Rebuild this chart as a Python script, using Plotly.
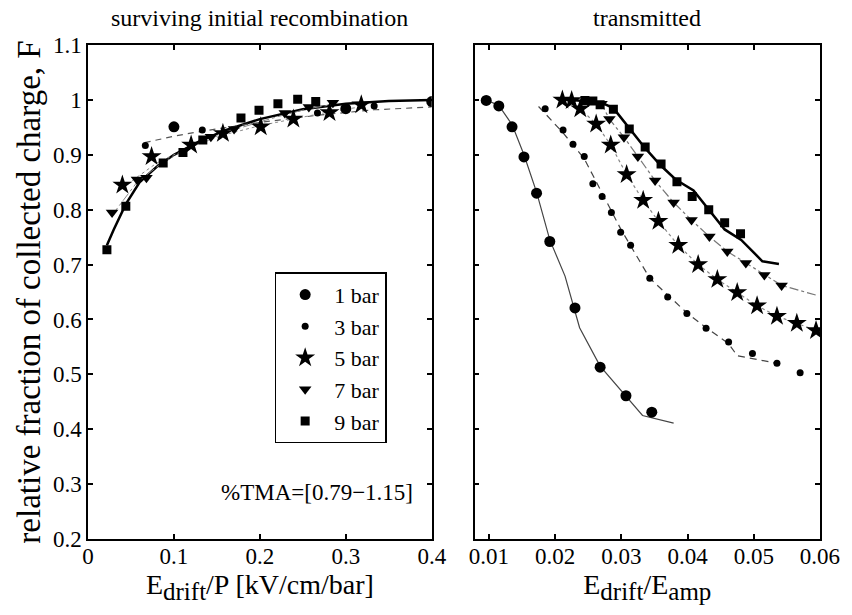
import plotly.graph_objects as go

# ---------------- data: left panel (surviving initial recombination) ----------------
L1_x = [0.1, 0.3, 0.4]
L1_y = [0.951, 0.984, 0.997]
L3_x = [0.0667, 0.133, 0.267, 0.333]
L3_y = [0.917, 0.945, 0.976, 0.989]
L5_x = [0.040, 0.074, 0.120, 0.157, 0.201, 0.239, 0.281, 0.318]
L5_y = [0.845, 0.897, 0.918, 0.939, 0.951, 0.965, 0.977, 0.991]
L7_x = [0.028, 0.057, 0.068, 0.143, 0.170, 0.229, 0.257, 0.285]
L7_y = [0.795, 0.855, 0.858, 0.933, 0.947, 0.976, 0.987, 0.995]
L9_x = [0.022, 0.044, 0.0875, 0.1105, 0.1336, 0.178, 0.199, 0.221, 0.244, 0.265]
L9_y = [0.727, 0.806, 0.885, 0.904, 0.927, 0.967, 0.981, 0.993, 1.001, 0.997]

# model curves, left
L9f_x = [0.022, 0.030, 0.044, 0.060, 0.080, 0.100, 0.130, 0.160, 0.200, 0.250, 0.300, 0.350, 0.400]
L9f_y = [0.735, 0.764, 0.810, 0.850, 0.878, 0.900, 0.925, 0.945, 0.965, 0.983, 0.993, 0.998, 1.000]
L3f_x = [0.066, 0.100, 0.133, 0.200, 0.267, 0.333, 0.400]
L3f_y = [0.922, 0.934, 0.943, 0.959, 0.972, 0.982, 0.987]
L5f_x = [0.040, 0.080, 0.120, 0.160, 0.200, 0.240, 0.280, 0.320]
L5f_y = [0.840, 0.885, 0.915, 0.937, 0.953, 0.966, 0.978, 0.988]
L7f_x = [0.028, 0.057, 0.086, 0.114, 0.143, 0.171, 0.200, 0.229, 0.257, 0.286]
L7f_y = [0.790, 0.850, 0.885, 0.910, 0.930, 0.946, 0.960, 0.973, 0.984, 0.992]

# ---------------- data: right panel (transmitted) ----------------
R1_x = [0.0096, 0.0115, 0.0135, 0.0153, 0.0172, 0.0192, 0.0230, 0.0268, 0.0307, 0.0346]
R1_y = [0.999, 0.989, 0.951, 0.896, 0.830, 0.742, 0.621, 0.513, 0.461, 0.431]
R3_x = [0.0185, 0.0212, 0.0227, 0.0244, 0.0257, 0.0271, 0.0285, 0.0299, 0.0314, 0.0343,
        0.0370, 0.0399, 0.0428, 0.0462, 0.0498, 0.0535, 0.0570]
R3_y = [0.984, 0.945, 0.919, 0.897, 0.847, 0.824, 0.795, 0.759, 0.735, 0.675,
        0.641, 0.611, 0.584, 0.559, 0.538, 0.520, 0.503]
R5_x = [0.0211, 0.0225, 0.0238, 0.0262, 0.0284, 0.0308, 0.0333, 0.0356, 0.0386, 0.0416,
        0.0445, 0.0475, 0.0505, 0.0535, 0.0565, 0.0594]
R5_y = [1.000, 0.999, 0.984, 0.956, 0.918, 0.864, 0.817, 0.779, 0.735, 0.700,
        0.673, 0.649, 0.625, 0.606, 0.593, 0.580]
R7_x = [0.0250, 0.0270, 0.0282, 0.0304, 0.0325, 0.0351, 0.0379, 0.0406, 0.0433, 0.0460,
        0.0488, 0.0516, 0.0542]
R7_y = [0.997, 0.993, 0.965, 0.932, 0.897, 0.853, 0.813, 0.781, 0.751, 0.724,
        0.703, 0.681, 0.662]
R9_x = [0.0245, 0.0257, 0.0268, 0.0288, 0.0312, 0.0336, 0.0360, 0.0384, 0.0407, 0.0432,
        0.0456, 0.0480]
R9_y = [0.999, 0.998, 0.991, 0.983, 0.947, 0.914, 0.883, 0.851, 0.824, 0.800,
        0.776, 0.756]

# model curves, right
R1f_x = [0.0096, 0.0115, 0.0135, 0.0153, 0.0172, 0.0192, 0.0215, 0.0237, 0.0268, 0.0300, 0.0332, 0.0379]
R1f_y = [1.000, 0.990, 0.955, 0.900, 0.832, 0.745, 0.679, 0.585, 0.515, 0.470, 0.425, 0.411]
R3f_x = [0.0175, 0.0212, 0.0244, 0.0271, 0.0299, 0.0343, 0.0399, 0.0428, 0.0462, 0.0475, 0.0535]
R3f_y = [0.988, 0.940, 0.893, 0.830, 0.765, 0.675, 0.612, 0.585, 0.556, 0.534, 0.520]
R5f_x = [0.0211, 0.0238, 0.0262, 0.0284, 0.0308, 0.0333, 0.0356, 0.0386, 0.0416, 0.0445,
         0.0475, 0.0505, 0.0535, 0.0565, 0.0594]
R5f_y = [1.000, 0.984, 0.956, 0.918, 0.864, 0.817, 0.779, 0.735, 0.700, 0.673,
         0.649, 0.625, 0.606, 0.593, 0.580]
R7f_x = [0.0240, 0.0270, 0.0282, 0.0304, 0.0325, 0.0351, 0.0379, 0.0406, 0.0433, 0.0460,
         0.0488, 0.0516, 0.0542, 0.0595]
R7f_y = [1.000, 0.993, 0.965, 0.932, 0.897, 0.853, 0.813, 0.781, 0.751, 0.724,
         0.703, 0.681, 0.662, 0.644]
R9f_x = [0.0225, 0.0270, 0.0288, 0.0312, 0.0336, 0.0360, 0.0382, 0.0409, 0.0432, 0.0456,
         0.0481, 0.0513, 0.0538]
R9f_y = [1.000, 0.995, 0.985, 0.948, 0.912, 0.880, 0.855, 0.835, 0.800, 0.764,
         0.745, 0.706, 0.701]

series_names = ["1 bar", "3 bar", "5 bar", "7 bar", "9 bar"]

# ---------------- styles ----------------
FONT = "Liberation Serif, Times New Roman, serif"
marker_styles = {
    "1 bar": dict(symbol="circle", size=11),
    "3 bar": dict(symbol="circle", size=7),
    "5 bar": dict(symbol="star", size=15),
    "7 bar": dict(symbol="triangle-down", size=11),
    "9 bar": dict(symbol="square", size=9),
}

fig = go.Figure()

def add_line(x, y, xa, ya, color, width, dash):
    fig.add_trace(go.Scatter(x=x, y=y, xaxis=xa, yaxis=ya, mode="lines",
                             line=dict(color=color, width=width, dash=dash),
                             showlegend=False, hoverinfo="skip"))

# lines first (under markers)
add_line(L9f_x, L9f_y, "x", "y", "black", 2.5, "solid")
add_line(L3f_x, L3f_y, "x", "y", "#555555", 1.2, "6px,5px")
add_line(L5f_x, L5f_y, "x", "y", "#888888", 1.0, "dot")
add_line(L7f_x, L7f_y, "x", "y", "#888888", 1.0, "dashdot")

add_line(R1f_x, R1f_y, "x2", "y2", "#444444", 1.2, "solid")
add_line(R3f_x, R3f_y, "x2", "y2", "#444444", 1.2, "7px,5px")
add_line(R5f_x, R5f_y, "x2", "y2", "#888888", 1.2, "dot")
add_line(R7f_x, R7f_y, "x2", "y2", "#777777", 1.2, "dashdot")
add_line(R9f_x, R9f_y, "x2", "y2", "black", 2.5, "solid")

left_data = {"1 bar": (L1_x, L1_y), "3 bar": (L3_x, L3_y), "5 bar": (L5_x, L5_y),
             "7 bar": (L7_x, L7_y), "9 bar": (L9_x, L9_y)}
right_data = {"1 bar": (R1_x, R1_y), "3 bar": (R3_x, R3_y), "5 bar": (R5_x, R5_y),
              "7 bar": (R7_x, R7_y), "9 bar": (R9_x, R9_y)}

for name in series_names:
    ms = marker_styles[name]
    x, y = left_data[name]
    fig.add_trace(go.Scatter(x=x, y=y, xaxis="x", yaxis="y", mode="markers", name=name,
                             marker=dict(symbol=ms["symbol"], size=ms["size"], color="black"),
                             legendgroup=name, showlegend=True))
for name in series_names:
    ms = marker_styles[name]
    x, y = right_data[name]
    fig.add_trace(go.Scatter(x=x, y=y, xaxis="x2", yaxis="y2", mode="markers", name=name,
                             marker=dict(symbol=ms["symbol"], size=ms["size"], color="black"),
                             legendgroup=name, showlegend=False))

axis_common = dict(showline=True, linecolor="black", linewidth=1.5, mirror="ticks",
                   ticks="inside", ticklen=5, tickwidth=1.5, tickcolor="black",
                   showgrid=False, zeroline=False,
                   tickfont=dict(family=FONT, size=23, color="black"))

SUB = '<sub><span style="font-size:25px">{}</span></sub>'

fig.update_layout(
    width=852, height=615, autosize=False,
    margin=dict(l=87.5, r=26, t=45, b=75.5),
    paper_bgcolor="white", plot_bgcolor="white",
    font=dict(family=FONT, color="black"),
    xaxis=dict(domain=[0, 0.4696], range=[0, 0.4], tickvals=[0, 0.1, 0.2, 0.3, 0.4],
               ticktext=["0", "0.1", "0.2", "0.3", "0.4"], ticklabelstandoff=-4,
               title=dict(text="E" + SUB.format("drift") + "/P [kV/cm/bar]", standoff=4,
                          font=dict(family=FONT, size=28, color="black")),
               anchor="y", **axis_common),
    yaxis=dict(domain=[0, 1], range=[0.2, 1.1],
               tickvals=[0.2, 0.3, 0.4, 0.5, 0.6, 0.7, 0.8, 0.9, 1.0, 1.1],
               ticktext=["0.2", "0.3", "0.4", "0.5", "0.6", "0.7", "0.8", "0.9", "1", "1.1"],
               title=dict(text="relative fraction of collected charge, F", standoff=2,
                          font=dict(family=FONT, size=33, color="black")),
               anchor="x", **axis_common),
    xaxis2=dict(domain=[0.5281, 1], range=[0.00784, 0.06],
                tickvals=[0.01, 0.02, 0.03, 0.04, 0.05, 0.06],
                ticktext=["0.01", "0.02", "0.03", "0.04", "0.05", "0.06"], ticklabelstandoff=-4,
                title=dict(text="E" + SUB.format("drift") + "/E" + SUB.format("amp"), standoff=4,
                           font=dict(family=FONT, size=28, color="black")),
                anchor="y2", **axis_common),
    yaxis2=dict(domain=[0, 1], range=[0.2, 1.1], matches="y", showticklabels=False,
                tickvals=[0.2, 0.3, 0.4, 0.5, 0.6, 0.7, 0.8, 0.9, 1.0, 1.1],
                anchor="x2", **axis_common),
    legend=dict(x=0.255, y=0.540, xanchor="left", yanchor="top",
                bgcolor="white", bordercolor="black", borderwidth=1.5,
                font=dict(family=FONT, size=22, color="black"),
                itemwidth=48, tracegroupgap=0),
    annotations=[
        dict(text="surviving initial recombination", xref="paper", yref="paper",
             x=0.2348, y=1, xanchor="center", yanchor="bottom", yshift=12, showarrow=False,
             font=dict(family=FONT, size=24, color="black")),
        dict(text="transmitted", xref="paper", yref="paper",
             x=0.7640, y=1, xanchor="center", yanchor="bottom", yshift=12, showarrow=False,
             font=dict(family=FONT, size=24, color="black")),
        dict(text="%TMA=[0.79\u22121.15]", xref="x", yref="y",
             x=0.38, y=0.285, xanchor="right", yanchor="middle", showarrow=False,
             font=dict(family=FONT, size=23, color="black")),
    ],
)

fig.write_html("out.html")
